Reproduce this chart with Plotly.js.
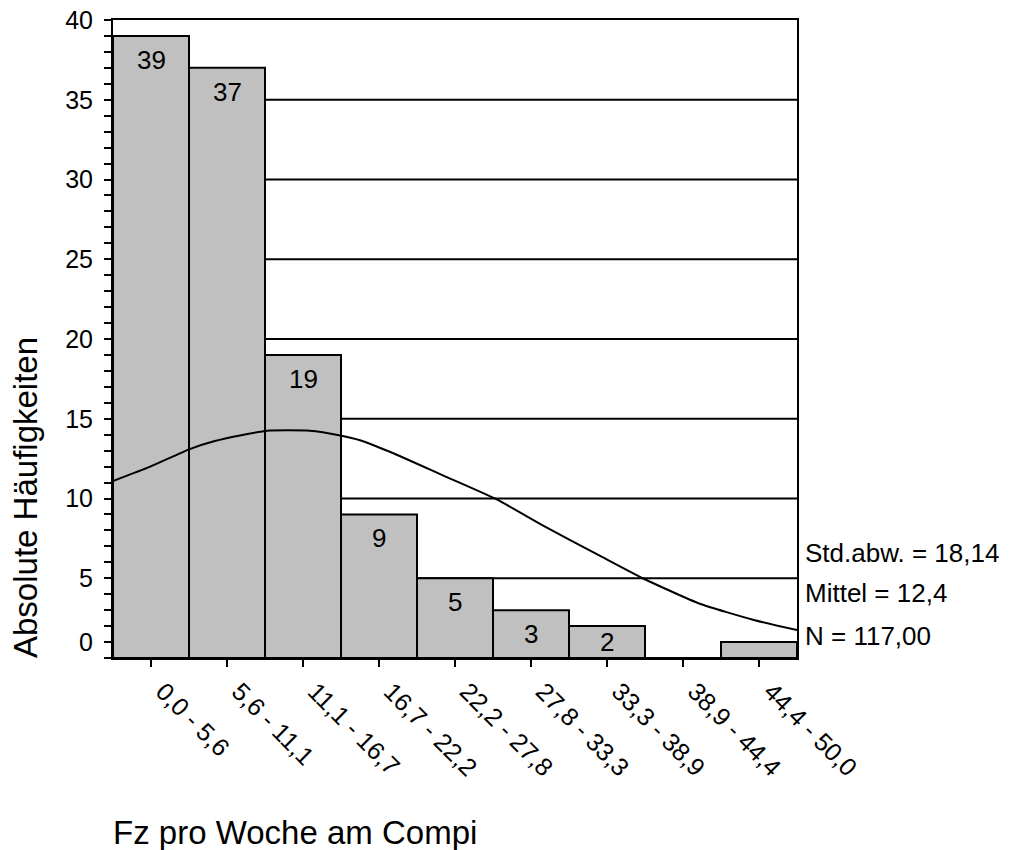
<!DOCTYPE html>
<html>
<head>
<meta charset="utf-8">
<script src="https://cdn.plot.ly/plotly-3.0.1.min.js"></script>
<style>html,body{margin:0;padding:0;background:#fff;}#chart{width:1020px;height:850px;}</style>
</head>
<body>
<div id="chart"></div>
<script>
// ---- data ----
const binLabels = ["0,0 - 5,6","5,6 - 11,1","11,1 - 16,7","16,7 - 22,2","22,2 - 27,8","27,8 - 33,3","33,3 - 38,9","38,9 - 44,4","44,4 - 50,0"];
const counts = [39, 37, 19, 9, 5, 3, 2, 0, 1];
// normal curve (x in bin units, 0 = left edge of first bin)
const curveX = [0, 0.49, 1.01, 1.34, 1.67, 2.03, 2.59, 2.99, 3.25, 3.68, 4.34, 5.05, 5.66, 6.41, 6.97, 7.72, 8.42, 9.0];
const curveY = [11.1, 12.0, 13.1, 13.6, 13.95, 14.25, 14.25, 13.95, 13.65, 12.85, 11.45, 9.94, 8.3, 6.4, 5.0, 3.4, 2.4, 1.75];
const yTickVals = [1, 5, 10, 15, 20, 25, 30, 35, 40];
const yTickText = ["0", "5", "10", "15", "20", "25", "30", "35", "40"];
const gridVals = [5, 10, 15, 20, 25, 30, 35];
const statsLines = ["Std.abw. = 18,14", "Mittel = 12,4", "N = 117,00"];
const statsY = [6.6, 4.1, 1.4];
const xTitle = "Fz pro Woche am Compi";
const yTitle = "Absolute Häufigkeiten";

// ---- layout constants ----
const FONT = "Liberation Sans, Arial, sans-serif";
const M = {l: 113, r: 223, t: 20, b: 192};
const plotH = 850 - M.t - M.b;
const pxPerUnit = plotH / 40;
const centers = counts.map((_, i) => i + 0.5);

const bars = {
  type: 'bar', x: centers, y: counts, width: 1,
  marker: {color: '#c0c0c0', line: {color: '#000', width: 2}},
  hoverinfo: 'skip', showlegend: false
};
const curve = {
  type: 'scatter', mode: 'lines', x: curveX, y: curveY,
  line: {color: '#000', width: 2, shape: 'spline', smoothing: 0.5},
  hoverinfo: 'skip', showlegend: false
};

const annotations = [];
counts.forEach((v, i) => {
  if (v >= 2) {
    annotations.push({
      x: centers[i], y: v, xref: 'x', yref: 'y', text: String(v), showarrow: false,
      xanchor: 'center', yanchor: 'middle',
      yshift: -Math.min(24, v * pxPerUnit / 2),
      font: {family: FONT, size: 26, color: '#000'}
    });
  }
});
statsLines.forEach((t, i) => {
  annotations.push({
    x: 1, xref: 'paper', y: statsY[i], yref: 'y', text: t, showarrow: false,
    xanchor: 'left', yanchor: 'middle', xshift: 6,
    font: {family: FONT, size: 26, color: '#000'}
  });
});
annotations.push({
  x: 0, xref: 'paper', y: -0.273, yref: 'paper', text: xTitle, showarrow: false,
  xanchor: 'left', yanchor: 'middle', xshift: -2,
  font: {family: FONT, size: 33, color: '#000'}
});
annotations.push({
  x: -0.127, xref: 'paper', y: 0.251, yref: 'paper', text: yTitle, showarrow: false,
  xanchor: 'center', yanchor: 'middle', textangle: -90,
  font: {family: FONT, size: 33, color: '#000'}
});

const shapes = gridVals.map(g => ({
  type: 'line', xref: 'paper', x0: 0, x1: 1, yref: 'y', y0: g, y1: g,
  line: {color: '#000', width: 2}, layer: 'below'
}));

const layout = {
  width: 1020, height: 850,
  margin: M,
  paper_bgcolor: '#fff', plot_bgcolor: '#fff',
  font: {family: FONT, color: '#000'},
  bargap: 0,
  xaxis: {
    range: [0, 9], tickmode: 'array', tickvals: centers, ticktext: binLabels,
    tickangle: 45, ticks: 'outside', ticklen: 7, tickwidth: 2, tickcolor: '#000',
    showline: true, linecolor: '#000', linewidth: 2, mirror: true,
    showgrid: false, zeroline: false, fixedrange: true,
    ticklabelshift: 12,
    tickfont: {family: FONT, size: 25, color: '#000'}
  },
  yaxis: {
    range: [0, 40], tickmode: 'array', tickvals: yTickVals, ticktext: yTickText,
    ticks: 'outside', ticklen: 7, tickwidth: 2, tickcolor: '#000',
    minor: {dtick: 1, tick0: 0, ticks: 'outside', ticklen: 7, tickwidth: 2, tickcolor: '#000', showgrid: false},
    showline: true, linecolor: '#000', linewidth: 2, mirror: true,
    showgrid: false, zeroline: false, fixedrange: true,
    ticklabelstandoff: 6,
    tickfont: {family: FONT, size: 25, color: '#000'}
  },
  shapes: shapes,
  annotations: annotations
};

Plotly.newPlot('chart', [bars, curve], layout, {displayModeBar: false, staticPlot: true});
</script>
</body>
</html>
